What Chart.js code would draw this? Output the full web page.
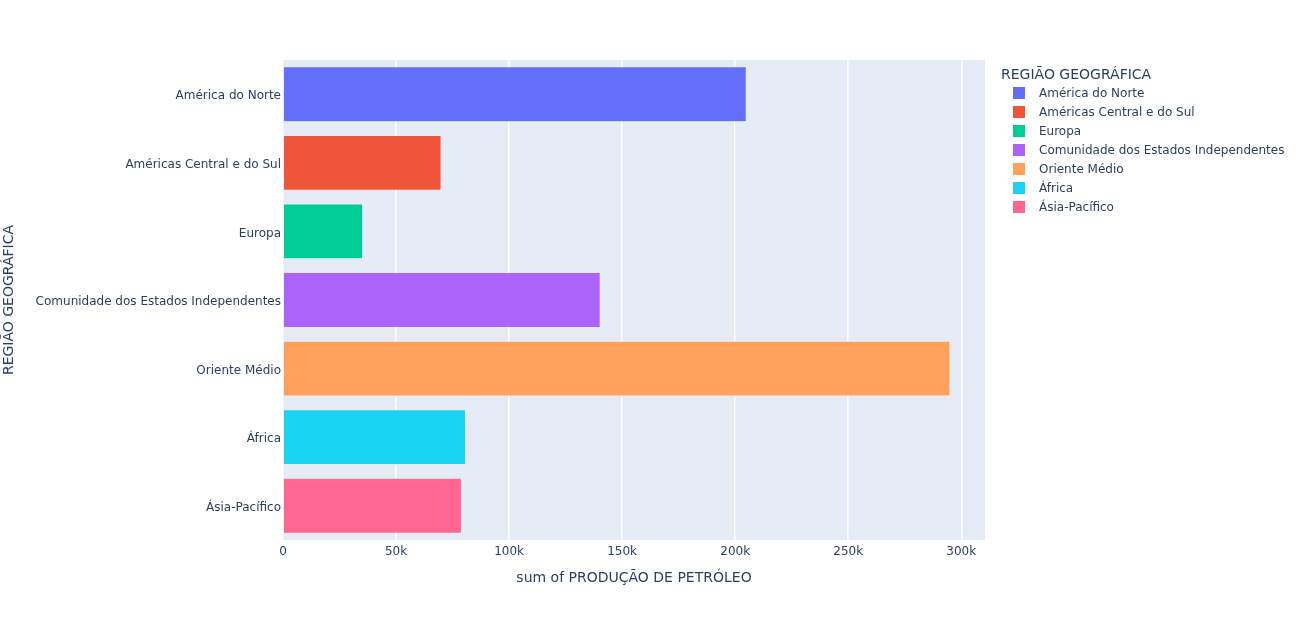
<!DOCTYPE html>
<html>
<head>
<meta charset="utf-8">
<script src="https://cdn.jsdelivr.net/npm/chart.js@4.4.1/dist/chart.umd.min.js"></script>
<style>
body{margin:0;background:#fff;font-family:"DejaVu Sans",sans-serif}
#wrap{position:relative;width:1303px;height:621px}
#legend{position:absolute;left:1001px;top:64px;color:#2a3f5f}
#legend .ttl{font-size:14px;height:20px;line-height:20px;white-space:nowrap}
#legend .item{height:18.9px;display:flex;align-items:center;font-size:12px;white-space:nowrap}
#legend .sw{width:12px;height:12px;margin-left:12px;margin-right:14px}
</style>
</head>
<body>
<div id="wrap">
<canvas id="c" width="1303" height="621"></canvas>
<div id="legend"></div>
</div>
<script>

const regions=["América do Norte","Américas Central e do Sul","Europa","Comunidade dos Estados Independentes","Oriente Médio","África","Ásia-Pacífico"]
const production=[204900,69900,35200,140300,295000,80700,78900]
const colors=["#636efa","#EF553B","#00cc96","#ab63fa","#FFA15A","#19d3f3","#FF6692"]
const xTicks=[0,50000,100000,150000,200000,250000,300000]

const legendTitle="REGIÃO GEOGRÁFICA"
const xTitle="sum of PRODUÇÃO DE PETRÓLEO"

// legend in html
const lg=document.getElementById("legend")
let t=document.createElement("div")
t.className="ttl"
t.innerText=legendTitle
lg.appendChild(t)
regions.forEach((r,i)=>{
let d=document.createElement("div")
d.className="item"
d.innerHTML=`<span class="sw" style="background:${colors[i]}"></span><span>${r}</span>`
lg.appendChild(d)
})

const plotBg={
id:"plotBg",
beforeDraw(ch){
const a=ch.chartArea
const ctx=ch.ctx
ctx.save()
ctx.fillStyle="#E5ECF6"
ctx.fillRect(a.left,a.top,a.right-a.left,a.bottom-a.top)
ctx.restore()
}
}

Chart.defaults.font.family='"DejaVu Sans", sans-serif'
Chart.defaults.color="#2a3f5f"

new Chart(document.getElementById("c"),{
type:"bar",
data:{
labels:regions,
datasets:[{
label:legendTitle,
data:production,
backgroundColor:colors,
borderColor:"rgba(255,255,255,0.35)",
borderWidth:0.5,
barPercentage:0.8,
categoryPercentage:1
}]
},
options:{
indexAxis:"y",
responsive:false,
animation:false,
layout:{padding:{top:60,right:318,bottom:30,left:0}},
plugins:{legend:{display:false},tooltip:{enabled:false}},
scales:{
x:{
min:0,
max:310500,
afterFit(s){s.height=51},
afterBuildTicks(s){s.ticks=xTicks.map(v=>({value:v}))},
grid:{color:"#ffffff",lineWidth:1.5,drawTicks:false},
border:{display:false},
ticks:{
padding:5,
font:{size:12},
callback:v=>v===0?"0":(v/1000)+"k"
},
title:{display:true,text:xTitle,font:{size:14},padding:{top:0,bottom:4}}
},
y:{
afterFit(s){s.width=283},
grid:{display:false,drawTicks:false},
border:{display:false},
ticks:{padding:2,labelOffset:2,font:{size:12}},
title:{display:true,text:legendTitle,font:{size:14},padding:{top:1,bottom:0}}
}
}
},
plugins:[plotBg]
})

</script>
</body>
</html>
